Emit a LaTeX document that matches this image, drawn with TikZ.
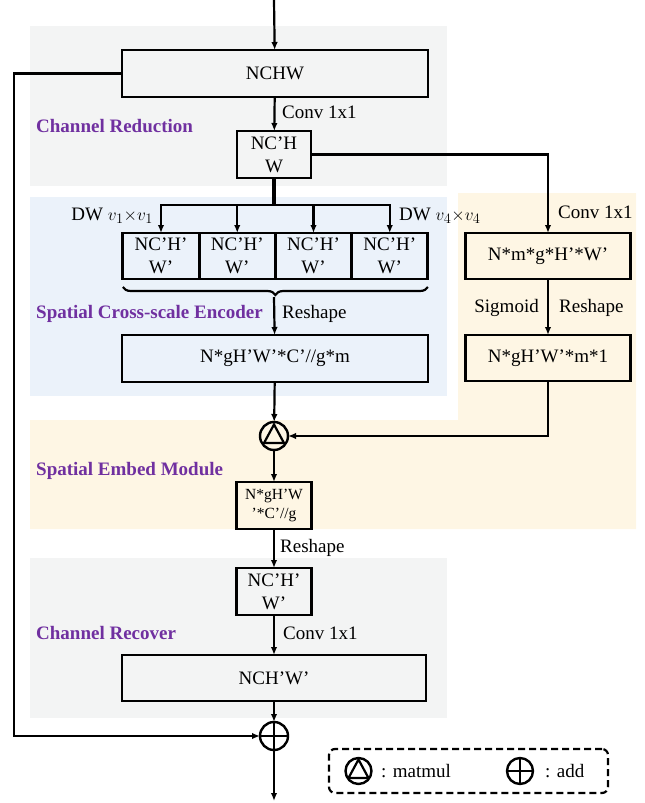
\documentclass[tikz,border=0pt]{standalone}
\usepackage{fontspec}
\setmainfont{Liberation Serif}
\usetikzlibrary{arrows.meta, decorations.pathreplacing, positioning}
\definecolor{bggray}{RGB}{243,244,244}
\definecolor{bgblue}{RGB}{235,242,250}
\definecolor{bgyellow}{RGB}{254,246,228}
\definecolor{modpurple}{RGB}{112,48,160}

\tikzset{
  blk/.style={draw, line width=2.8pt, inner sep=0pt, outer sep=0pt, align=center},
  lbl/.style={inner sep=0pt},
  tag/.style={inner sep=0pt, anchor=base west, font=\fontsize{19}{23}\selectfont\bfseries, text=modpurple},
  flow/.style={-{Latex[length=8pt,width=6.5pt]}, line width=2.2pt},
  mmop/.style={circle, draw, line width=2.4pt, minimum size=28pt, inner sep=0pt, outer sep=0pt,
    path picture={\draw[line width=2.2pt]
      ([shift={(0,-11.5)}]path picture bounding box.center) --
      ([shift={(-10,7)}]path picture bounding box.center) --
      ([shift={(10,7)}]path picture bounding box.center) -- cycle;}},
  addop/.style={circle, draw, line width=2.4pt, minimum size=28pt, inner sep=0pt, outer sep=0pt,
    path picture={\draw[line width=2.6pt]
      (path picture bounding box.north) -- (path picture bounding box.south)
      (path picture bounding box.west) -- (path picture bounding box.east);}},
}

\begin{document}
\begin{tikzpicture}[x=1pt, y=-1pt, font=\fontsize{19}{23}\selectfont]
\useasboundingbox (0,0) rectangle (645,803);

% module backgrounds
\fill[bggray] (30,26) rectangle (447,186);
\fill[bgblue] (30,197) rectangle (447,396);
\fill[bgyellow] (458,193) -- (636,193) -- (636,529) -- (30,529) -- (30,420) -- (458,420) -- cycle;
\fill[bggray] (30,558) rectangle (447,718);

\node[tag] (red) at (36,132) {Channel Reduction};
\node[tag] (sce) at (36,318) {Spatial Cross-scale Encoder};
\node[tag] (sem) at (36,475) {Spatial Embed Module};
\node[tag] (crc) at (36,639) {Channel Recover};

% main column
\coordinate (inp) at (274,0);
\node[blk, minimum width=306, minimum height=47] (nchw) at (275,73.5) {NCHW};
\node[blk, minimum width=74, minimum height=47] (ncr) at (274,154.5) {NC'H\\W};
\coordinate (split) at (274,205);
\node[blk, minimum width=76.25, minimum height=46] (dw1) at (161,256) {NC'H'\\W'};
\node[blk, minimum width=76.25, minimum height=46, right=0pt of dw1] (dw2) {NC'H'\\W'};
\node[blk, minimum width=76.25, minimum height=46, right=0pt of dw2] (dw3) {NC'H'\\W'};
\node[blk, minimum width=76.25, minimum height=46, right=0pt of dw3] (dw4) {NC'H'\\W'};
\coordinate (bt) at (274,297);
\node[blk, minimum width=306, minimum height=47] (enc) at (275,358.5) {N*gH'W'*C'//g*m};
\node[mmop] (mm) at (274,436) {};
\node[blk, minimum width=75, minimum height=47, font=\fontsize{15.5}{19}\selectfont] (emb) at (274,505.5) {N*gH'W\\'*C'//g};
\node[blk, minimum width=75, minimum height=47] (rec) at (274,591.5) {NC'H'\\W'};
\node[blk, minimum width=304, minimum height=46] (nchw2) at (274,678) {NCH'W'};
\node[addop] (add) at (274,736) {};
\coordinate (outp) at (274,801);
\coordinate (skip) at (14,736);

% attention branch
\node[blk, minimum width=165, minimum height=46] (att) at (548,256) {N*m*g*H'*W'};
\node[blk, minimum width=165, minimum height=46] (wgt) at (548,358) {N*gH'W'*m*1};

% connectors
\draw[flow] (inp) -- (nchw);
\draw[flow] (nchw) -- (ncr);
\draw[line width=3.2pt] (ncr) -- (split);
\foreach \b in {dw1,dw2,dw3,dw4}
  \draw[flow] (split) -| (\b.north);
\draw[line width=2.2pt, decorate, decoration={brace, mirror, amplitude=8pt}]
  ([yshift=-8pt]dw1.south west) -- ([yshift=-8pt]dw4.south east);
\draw[flow] (bt) -- (enc);
\draw[flow] (enc) -- (mm);
\draw[flow] (mm) -- (emb);
\draw[flow] (emb) -- (rec);
\draw[flow] (rec) -- (nchw2);
\draw[flow] (nchw2) -- (add);
\draw[flow] (add) -- (outp);
\draw[flow] (nchw.west) -| (skip) -- (add.west);
\draw[flow] (ncr.east) -| (att.north);
\draw[flow] (att) -- (wgt);
\draw[flow] (wgt.south) |- (mm.east);

% step labels
\node[lbl, anchor=base west] (c1) at (282,118) {Conv 1x1};
\node[lbl, anchor=base east] (k1) at (153,220) {DW $v_1{\times}v_1$};
\node[lbl, anchor=base west] (k4) at (399,220) {DW $v_4{\times}v_4$};
\node[lbl, anchor=base west] (r1) at (282,318) {Reshape};
\node[lbl, anchor=base west] (c2) at (558,218) {Conv 1x1};
\node[lbl, anchor=base east] (sg) at (539,312) {Sigmoid};
\node[lbl, anchor=base west] (r2) at (559,312) {Reshape};
\node[lbl, anchor=base west] (r3) at (280,552) {Reshape};
\node[lbl, anchor=base west] (c3) at (283,639) {Conv 1x1};

% legend
\node[draw, dashed, dash pattern=on 7pt off 4pt, rounded corners=6pt, line width=2.2pt,
  minimum width=279, minimum height=44] (legend) at (468.5,771) {};
\node[mmop, minimum size=26pt] (lmm) at (358.5,771) {};
\node[lbl, anchor=base west] (lmmt) at (381,777) {: matmul};
\node[addop, minimum size=26pt] (ladd) at (520,771) {};
\node[lbl, anchor=base west] (laddt) at (545,777) {: add};
\end{tikzpicture}
\end{document}
